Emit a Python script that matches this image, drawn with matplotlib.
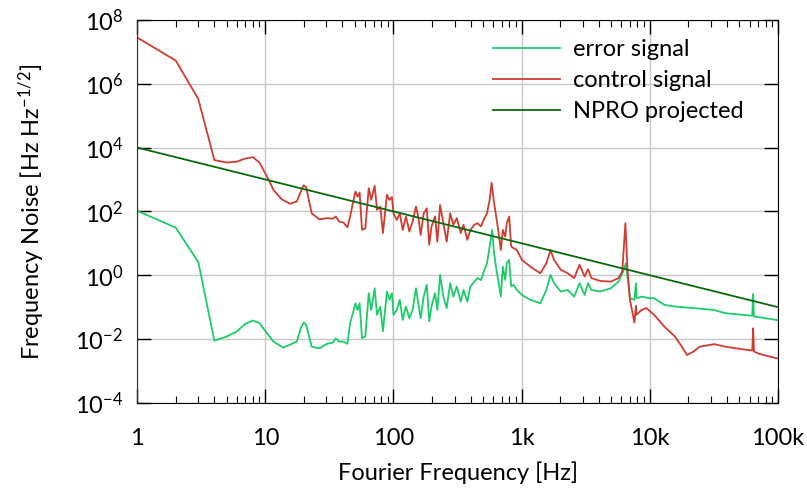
import numpy as np
import matplotlib.pyplot as plt
from matplotlib.ticker import LogLocator, NullLocator, FixedLocator

plt.rcParams['font.family'] = ['Lato', 'DejaVu Sans']
plt.rcParams['mathtext.fontset'] = 'custom'
plt.rcParams['mathtext.rm'] = 'Lato'
plt.rcParams['mathtext.it'] = 'Lato'

# control signal: frequency [Hz], log10 of noise
ctrl_f = [1, 2, 3, 4, 5, 6, 6.95, 8, 9, 10.3, 11.6, 13.4, 15.6, 17.6, 18.9, 19.9, 20.8, 23, 26.4,
          30.2, 33.6, 35.5, 37.6, 40.7, 43.7, 45.9, 48.2, 50.5, 52.4, 54.4, 56.8, 60.3, 64.1, 67,
          71.3, 74.4, 78.9, 82.7, 88.9, 93, 97.2, 100, 106, 112, 118, 125, 133, 141, 149.7, 156,
          163, 172, 182, 190, 198, 211, 220, 231, 245, 260, 277, 293, 312, 335, 352, 377, 398,
          427, 452, 482, 512, 537, 563, 583, 605, 633, 659, 688, 713, 744, 766, 799, 829, 864,
          918, 1005, 1168, 1400, 1560, 1680, 1790, 2020, 2290, 2570, 2830, 3100, 3300, 3500,
          4100, 4960, 5700, 6100, 6450, 6700, 7000, 7580, 7800, 7860, 8600, 9400, 10800, 13000,
          15700, 17800, 19500, 22000, 24500, 31800, 39000, 53000, 63000, 64000, 65000, 71000,
          97000, 100000]
ctrl_log = [7.45, 6.725, 5.52, 3.61, 3.53, 3.56, 3.655, 3.70, 3.53, 3.09, 2.67, 2.38, 2.24, 2.31,
            2.62, 2.82, 2.76, 1.94, 1.75, 1.79, 1.77, 1.84, 1.68, 1.65, 1.50, 1.84, 2.26, 2.62,
            2.46, 2.59, 1.42, 1.47, 2.73, 2.36, 2.80, 2.05, 2.15, 1.32, 2.52, 2.36, 2.45, 1.94,
            1.73, 1.94, 1.42, 1.84, 1.37, 1.68, 2.15, 1.84, 1.26, 1.94, 2.10, 0.95, 1.53, 1.84,
            1.05, 2.20, 1.63, 1.05, 1.94, 1.58, 1.79, 1.32, 1.58, 1.11, 1.42, 1.58, 1.63, 1.53,
            1.79, 1.94, 2.36, 2.90, 2.36, 1.84, 1.37, 0.79, 1.42, 1.21, 1.63, 1.84, 0.90, 0.85,
            0.79, 0.48, 0.27, 0.06, 0.38, 0.79, 0.48, 0.17, 0.06, -0.09, 0.33, -0.04, 0.19, -0.09,
            -0.18, -0.20, -0.09, 0.12, 1.63, 0.17, -0.77, -1.48, -0.96, -1.24, -1.09, -1.03, -1.24,
            -1.61, -1.92, -2.24, -2.50, -2.39, -2.24, -2.16, -2.24, -2.32, -2.36, -1.66, -2.39,
            -2.46, -2.60, -2.61]

# error signal: frequency [Hz], log10 of noise
err_f = [1, 2, 3, 4, 5, 6, 7, 8, 9, 10.3, 11.6, 13.8, 17.6, 18.9, 19.9, 20.8, 23, 26.4, 30.2,
         33.6, 35.5, 37.6, 40.7, 43.7, 45.9, 48.2, 50.5, 52.4, 54.4, 56.8, 60.3, 64.1, 67, 71.3,
         74.4, 78.9, 82.7, 88.9, 93, 97.2, 100, 106, 112, 118, 125, 133, 141, 149.7, 156, 163,
         172, 182, 190, 198, 211, 220, 231, 245, 260, 277, 293, 312, 335, 352, 377, 398, 427,
         452, 482, 512, 537, 563, 590, 605, 633, 659, 688, 713, 744, 766, 799, 829, 864, 918,
         1005, 1168, 1400, 1560, 1680, 1790, 2020, 2290, 2570, 2830, 3100, 3300, 3500, 4100,
         4960, 5700, 6200, 6500, 6700, 7000, 7580, 7800, 7900, 8600, 10000, 10800, 13000, 15700,
         22000, 26500, 31800, 39000, 53000, 63000, 64000, 65000, 97000, 100000]
err_log = [2.02, 1.49, 0.41, -2.05, -1.92, -1.76, -1.52, -1.42, -1.50, -1.82, -2.08, -2.27, -2.08,
           -1.66, -1.48, -1.55, -2.24, -2.29, -2.15, -2.11, -1.98, -2.08, -2.08, -2.15, -1.50,
           -1.19, -0.88, -1.09, -0.88, -1.97, -1.92, -0.56, -1.09, -0.41, -1.24, -0.98, -1.76,
           -0.51, -0.77, -0.56, -1.24, -1.09, -0.77, -1.40, -0.98, -1.35, -1.09, -0.41, -0.88,
           -1.35, -0.67, -0.30, -1.45, -0.98, -0.56, -1.09, 0.01, -0.67, -1.03, -0.25, -0.67,
           -0.35, -0.83, -0.46, -0.83, -0.35, -0.20, -0.09, -0.15, 0.17, 0.38, 0.90, 1.42, 0.79,
           0.22, -0.20, -0.67, 0.27, -0.15, 0.38, 0.48, -0.35, -0.30, -0.46, -0.62, -0.77, -0.88,
           -0.46, 0.01, -0.25, -0.51, -0.46, -0.67, -0.25, -0.62, -0.25, -0.46, -0.51, -0.41,
           -0.20, 0.12, 0.38, -0.04, -0.72, -0.77, -0.25, -0.72, -0.67, -0.72, -0.72, -0.93,
           -0.98, -1.03, -1.06, -1.09, -1.19, -1.24, -1.27, -0.59, -1.29, -1.40, -1.41]

# NPRO projected: endpoints
npro_f = [1, 100000]
npro_v = [1e4, 1e-1]

fig = plt.figure(figsize=(8.07, 4.98), dpi=100)
ax = fig.add_axes([0.17, 0.191, 0.794, 0.769])

ax.plot(err_f, 10 ** np.array(err_log), color='#1ecb6b', lw=1.3, label='error signal')
ax.plot(ctrl_f, 10 ** np.array(ctrl_log), color='#d23b2f', lw=1.3, label='control signal')
ax.plot(npro_f, npro_v, color='#0a6a0a', lw=1.3, label='NPRO projected')

ax.set_xscale('log')
ax.set_yscale('log')
ax.set_xlim(1, 1e5)
ax.set_ylim(1e-4, 1e8)

ax.set_xticks([1, 10, 100, 1e3, 1e4, 1e5])
ax.set_xticklabels(['1', '10', '100', '1k', '10k', '100k'])
ax.xaxis.set_minor_locator(LogLocator(base=10, subs=np.arange(2, 10)))
ax.xaxis.set_minor_formatter(plt.NullFormatter())

yt = [1e-4, 1e-2, 1, 1e2, 1e4, 1e6, 1e8]
ax.yaxis.set_major_locator(FixedLocator(yt))
ax.set_yticklabels(['$10^{-4}$', '$10^{-2}$', '$10^{0}$', '$10^{2}$', '$10^{4}$',
                    '$10^{6}$', '$10^{8}$'])
ax.yaxis.set_minor_locator(NullLocator())

ax.tick_params(which='both', direction='in', top=True, right=True, labelsize=17)
ax.tick_params(which='major', length=10, width=1)
ax.tick_params(which='minor', length=5, width=0.8)
ax.tick_params(axis='x', pad=18)
ax.tick_params(axis='y', pad=10)
ax.spines['left'].set_color('#4a2a20')

ax.grid(which='major', color='#c8c8c8', lw=1)
ax.set_axisbelow(True)

ax.set_xlabel('Fourier Frequency [Hz]', fontsize=17, labelpad=9)
ax.set_ylabel('Frequency Noise [Hz Hz$^{-1/2}$]', fontsize=17, labelpad=20)

ax.legend(loc='upper left', bbox_to_anchor=(0.599, 0.94), bbox_transform=fig.transFigure,
          frameon=False, fontsize=17, handlelength=2.84, handletextpad=0.55,
          labelspacing=0.42, borderaxespad=0)

fig.savefig('out.png', dpi=100)
